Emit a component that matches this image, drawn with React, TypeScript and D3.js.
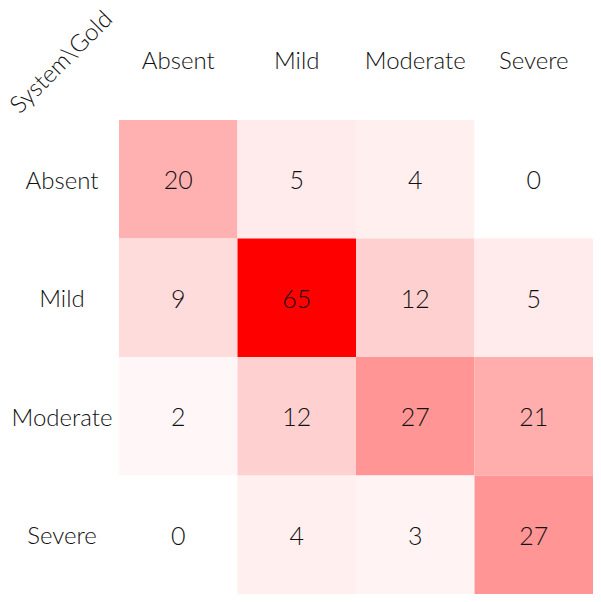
import React from "react";
import * as d3 from "d3";

const systemLabels = ["Absent", "Mild", "Moderate", "Severe"];
const goldLabels = ["Absent", "Mild", "Moderate", "Severe"];
const rowAbsent = [20, 5, 4, 0];
const rowMild = [9, 65, 12, 5];
const rowModerate = [2, 12, 27, 21];
const rowSevere = [0, 4, 3, 27];
const matrix = [rowAbsent, rowMild, rowModerate, rowSevere];
const cornerLabel = "System\\Gold";

export default function App() {
  const W = 601, H = 602;
  const x0 = 119, y0 = 120, size = 474;
  const x = d3.scaleBand<string>().domain(goldLabels).range([x0, x0 + size]);
  const y = d3.scaleBand<string>().domain(systemLabels).range([y0, y0 + size]);
  const maxV = d3.max(matrix.flat()) as number;
  const color = d3.scaleLinear<string>().domain([0, maxV]).range(["#ffffff", "#ff0000"]);
  const font = "Lato, 'Noto Sans', sans-serif";
  const weight = 300;
  return (
    <svg width={W} height={H} style={{ position: "absolute", left: 0, top: 0, background: "#fff" }}>
      {matrix.map((row, i) =>
        row.map((v, j) => (
          <g key={`${i}-${j}`}>
            <rect
              x={x(goldLabels[j])}
              y={y(systemLabels[i])}
              width={x.bandwidth()}
              height={y.bandwidth()}
              fill={color(v)}
            />
            <text
              x={(x(goldLabels[j]) as number) + x.bandwidth() / 2}
              y={(y(systemLabels[i]) as number) + y.bandwidth() / 2}
              textAnchor="middle"
              dominantBaseline="central"
              fontFamily={font}
              fontWeight={weight}
              fontSize={25}
              fill="#111"
            >
              {v}
            </text>
          </g>
        ))
      )}
      {goldLabels.map((g) => (
        <text
          key={"c" + g}
          x={(x(g) as number) + x.bandwidth() / 2}
          y={69}
          textAnchor="middle"
          fontFamily={font}
          fontWeight={weight}
          fontSize={24}
          fill="#111"
        >
          {g}
        </text>
      ))}
      {systemLabels.map((s) => (
        <text
          key={"r" + s}
          x={62}
          y={(y(s) as number) + y.bandwidth() / 2}
          textAnchor="middle"
          dominantBaseline="central"
          fontFamily={font}
          fontWeight={weight}
          fontSize={24}
          fill="#111"
        >
          {s}
        </text>
      ))}
      <text
        x={60}
        y={61}
        transform="rotate(-45 60 61)"
        textAnchor="middle"
        dominantBaseline="central"
        fontFamily={font}
        fontWeight={weight}
        fontSize={24}
        fill="#111"
      >
        {cornerLabel}
      </text>
    </svg>
  );
}
